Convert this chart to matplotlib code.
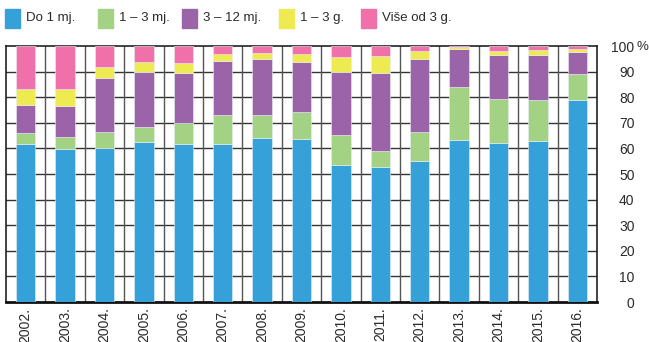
import matplotlib
matplotlib.use("Agg")
import matplotlib.pyplot as plt
from matplotlib.patches import Rectangle
import numpy as np

years = ["2002.", "2003.", "2004.", "2005.", "2006.", "2007.", "2008.", "2009.",
         "2010.", "2011.", "2012.", "2013.", "2014.", "2015.", "2016."]
series_names = ["Do 1 mj.", "1 – 3 mj.", "3 – 12 mj.", "1 – 3 g.", "Više od 3 g."]
do_1 = [61.7, 59.6, 60.0, 62.6, 61.6, 61.7, 63.9, 63.7, 53.4, 52.6, 55.2, 63.3, 62.1, 62.9, 78.9]
od_1_3 = [4.4, 4.8, 6.5, 5.6, 8.4, 11.5, 9.1, 10.5, 11.7, 6.4, 11.3, 20.7, 17.1, 16.0, 10.3]
od_3_12 = [10.7, 12.2, 21.0, 21.8, 19.6, 21.1, 22.0, 19.4, 24.6, 30.3, 28.5, 15.0, 17.3, 17.6, 8.6]
god_1_3 = [6.3, 6.6, 4.4, 3.75, 3.8, 2.4, 2.4, 3.3, 6.1, 6.9, 3.0, 0.5, 1.5, 1.9, 0.9]
vise_3 = [16.9, 16.8, 8.1, 6.25, 6.6, 3.3, 2.6, 3.1, 4.2, 3.8, 2.0, 0.5, 2.0, 1.6, 1.3]
yticks = [0, 10, 20, 30, 40, 50, 60, 70, 80, 90, 100]

colors = ["#36a0d9", "#a3d285", "#9b64a9", "#eeea52", "#f071a9"]

plt.rcParams['font.family'] = ['Liberation Sans', 'DejaVu Sans']
TXT = "#2a2a2a"

fig = plt.figure(figsize=(6.49, 3.42), dpi=100)
ax = fig.add_axes([6 / 649, 40 / 342, 591 / 649, 256 / 342])

x = np.arange(len(years))
bottom = np.zeros(len(years))
for vals, col in zip([do_1, od_1_3, od_3_12, god_1_3, vise_3], colors):
    ax.bar(x, vals, 0.49, bottom=bottom, color=col, edgecolor="#e8eef2",
           linewidth=0.4, zorder=3)
    bottom += np.array(vals)

ax.set_xlim(-0.5, len(years) - 0.5)
ax.set_ylim(0, 100)
ax.set_yticks(yticks)
ax.set_xticks(x)
ax.set_xticklabels(years, rotation=90, fontsize=10, color=TXT)
ax.yaxis.tick_right()
ax.tick_params(axis="y", length=0, pad=27, labelsize=10, labelcolor=TXT)
for lab in ax.get_yticklabels():
    lab.set_horizontalalignment("right")
ax.tick_params(axis="x", length=0, pad=4)

# grid: horizontal at tick values, vertical between categories
for yv in yticks[1:-1]:
    ax.axhline(yv, color="#333333", lw=1.0, zorder=1)
for xv in x[:-1] + 0.5:
    ax.axvline(xv, color="#555555", lw=1.0, zorder=1)

for side in ["top", "left", "right"]:
    ax.spines[side].set_color("#222222")
    ax.spines[side].set_linewidth(1.2)
ax.spines["bottom"].set_color("#111111")
ax.spines["bottom"].set_linewidth(2.0)

fig.text(642 / 649, 1 - 47 / 342, "%", fontsize=9.5, color=TXT,
         ha="center", va="center")

# legend
leg_x = [5, 98, 182, 279, 361]
for lx, name, col in zip(leg_x, series_names, colors):
    fig.patches.append(Rectangle((lx / 649, 1 - 28 / 342), 15 / 649, 19 / 342,
                                 color=col, transform=fig.transFigure, figure=fig))
    fig.text((lx + 21) / 649, 1 - 18 / 342, name, fontsize=9.5, color=TXT,
             ha="left", va="center")

plt.savefig("out.png", dpi=100)
